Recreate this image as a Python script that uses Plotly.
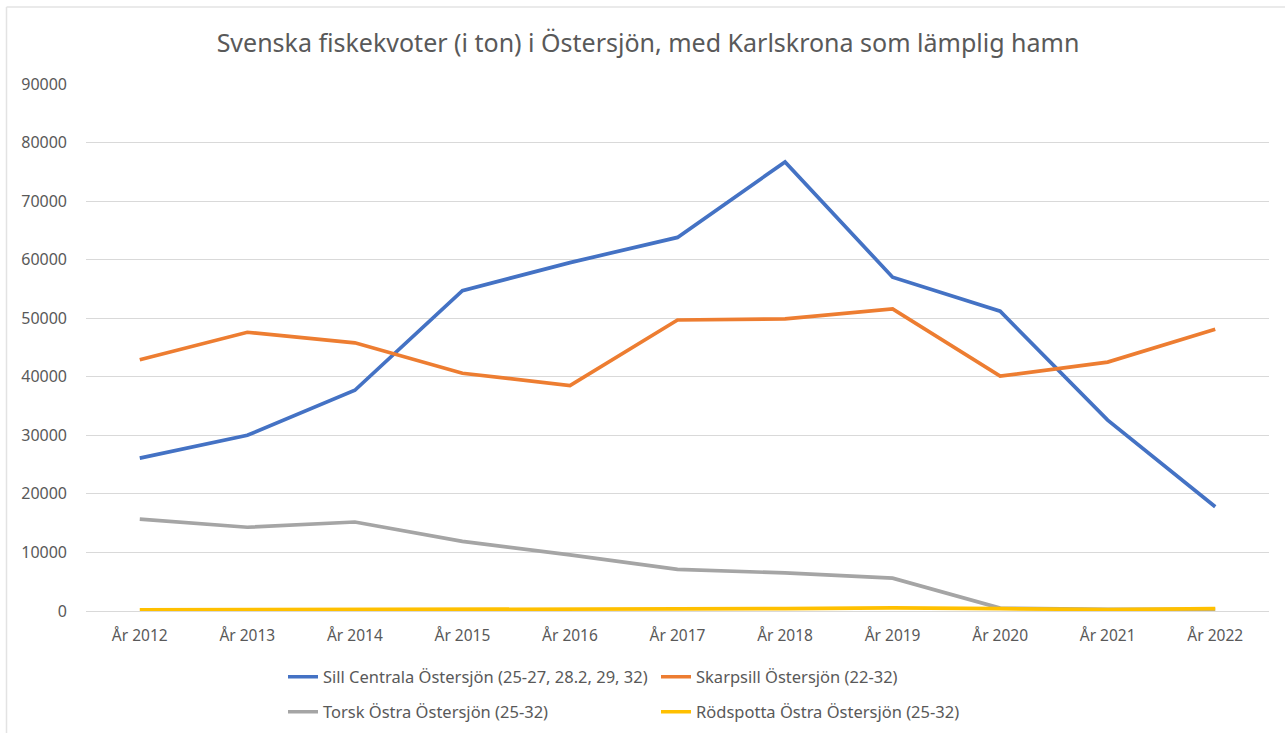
import plotly.graph_objects as go

years = ["År 2012", "År 2013", "År 2014", "År 2015", "År 2016", "År 2017",
         "År 2018", "År 2019", "År 2020", "År 2021", "År 2022"]

sill = [26100, 30000, 37700, 54700, 59500, 63800, 76700, 57000, 51200, 32600, 17800]
skarpsill = [42900, 47600, 45800, 40600, 38500, 49700, 49900, 51600, 40100, 42500, 48100]
torsk = [15700, 14300, 15200, 11900, 9600, 7100, 6500, 5600, 500, 300, 300]
rodspotta = [200, 200, 200, 200, 250, 350, 400, 550, 400, 250, 400]

names = ["Sill Centrala Östersjön (25-27, 28.2, 29, 32)",
         "Skarpsill Östersjön (22-32)",
         "Torsk Östra Östersjön (25-32)",
         "Rödspotta Östra Östersjön (25-32)"]
colors = ["#4472C4", "#ED7D31", "#A5A5A5", "#FFC000"]
series = [sill, skarpsill, torsk, rodspotta]
legends = ["legend", "legend2", "legend3", "legend4"]

FONT = "Noto Sans"
TXT = "#595959"

fig = go.Figure()
for name, col, vals, lg in zip(names, colors, series, legends):
    fig.add_trace(go.Scatter(x=years, y=vals, name=name, mode="lines",
                             line=dict(color=col, width=3.7),
                             legend=lg))

W, H = 1285, 733
L, R, T, B = 86, 16, 84, 122
pw = W - L - R
ph = H - T - B

def px2x(px):
    return (px - L) / pw

def py2y(py):
    return (H - B - py) / ph

leg_common = dict(orientation="h", xanchor="left", yanchor="middle",
                  font=dict(family=FONT, size=16.5, color=TXT),
                  bgcolor="rgba(0,0,0,0)", itemwidth=30, borderwidth=0,
                  tracegroupgap=0)

fig.update_layout(
    width=W, height=H,
    margin=dict(l=L, r=R, t=T, b=B, autoexpand=False),
    paper_bgcolor="white", plot_bgcolor="white",
    title=dict(text="Svenska fiskekvoter (i ton) i Östersjön, med Karlskrona som lämplig hamn",
               x=(648) / W, xanchor="center", y=1 - 43 / H, yanchor="middle",
               font=dict(family=FONT, size=25, color=TXT)),
    xaxis=dict(showgrid=False, showline=True, linecolor="#D9D9D9", linewidth=1,
               ticks="", tickfont=dict(family=FONT, size=15.5, color=TXT),
               ticklabelstandoff=10, range=[-0.5, 10.5]),
    yaxis=dict(range=[0, 90000], dtick=10000, showgrid=True, gridcolor="#D9D9D9",
               gridwidth=1, zeroline=False, showline=False, ticks="",
               tickfont=dict(family=FONT, size=16, color=TXT),
               ticklabelstandoff=18, tickformat="d"),
    legend=dict(x=px2x(283), y=py2y(677), **leg_common),
    legend2=dict(x=px2x(656), y=py2y(677), **leg_common),
    legend3=dict(x=px2x(283), y=py2y(712), **leg_common),
    legend4=dict(x=px2x(656), y=py2y(712), **leg_common),
    shapes=[
        dict(type="line", xref="paper", yref="paper",
             x0=px2x(6.5), x1=px2x(W + 5), y0=py2y(7), y1=py2y(7),
             line=dict(color="#E3E3E3", width=1.5)),
        dict(type="line", xref="paper", yref="paper",
             x0=px2x(6.5), x1=px2x(6.5), y0=py2y(7), y1=py2y(H + 5),
             line=dict(color="#E3E3E3", width=1.5)),
    ],
    showlegend=True,
)

fig.write_html("out.html",
               config={"displayModeBar": False},
               post_script="document.body.style.margin='0';document.body.style.padding='0';")
